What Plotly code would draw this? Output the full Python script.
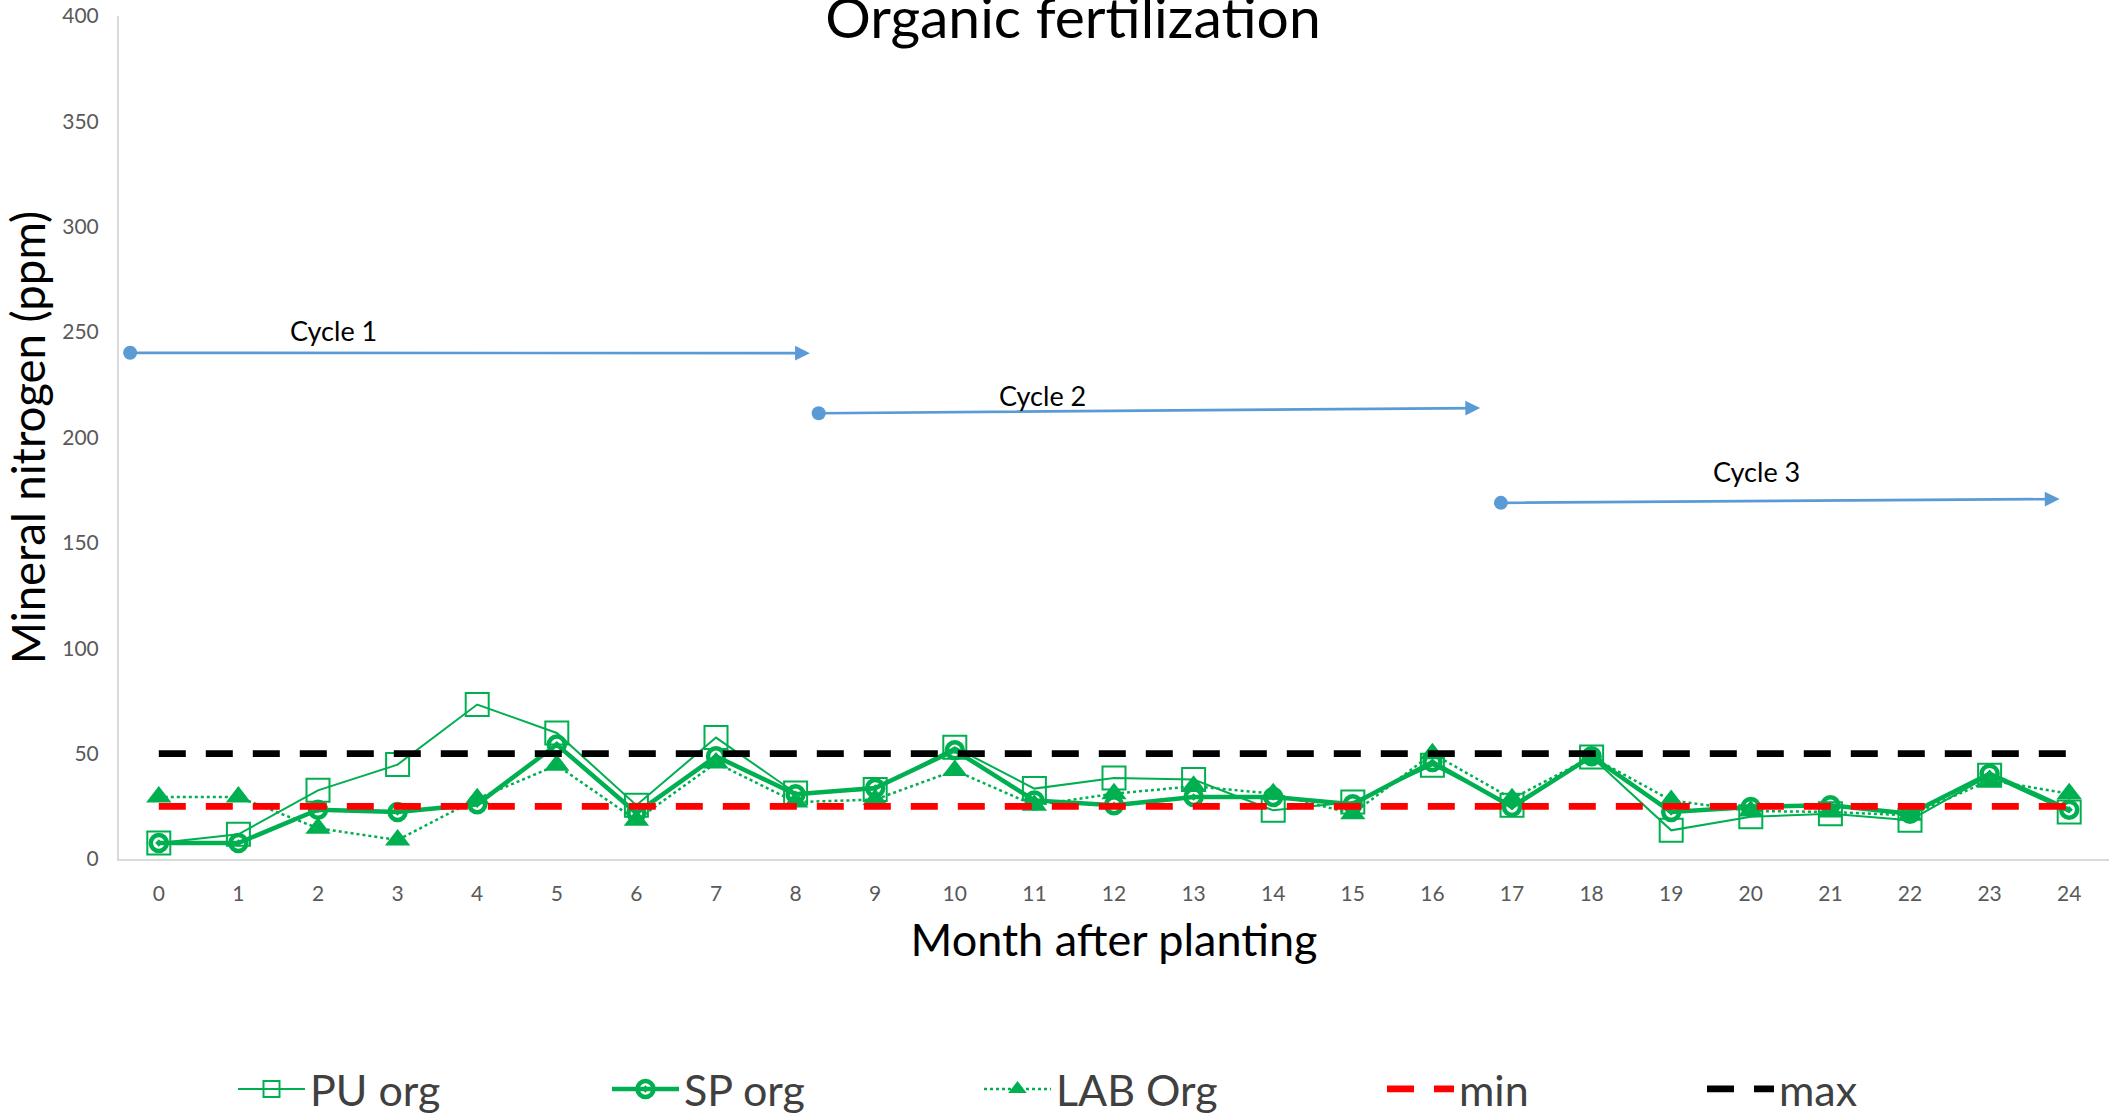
import plotly.graph_objects as go

months = list(range(25))
tick_labels = [str(m) for m in months]

pu_org = [7.6, 11.7, 32.6, 44.8, 73.3, 59.8, 25.5, 57.6, 31.3, 33.0, 53.0, 33.4, 38.4,
          37.7, 23.1, 27.0, 44.5, 25.5, 48.4, 13.6, 20.0, 21.5, 18.4, 39.7, 22.3]
sp_org = [7.6, 7.6, 23.4, 22.3, 26.0, 54.3, 21.8, 48.7, 30.7, 33.7, 51.6, 27.8, 25.5,
          29.4, 29.4, 26.0, 46.0, 24.7, 48.7, 22.3, 24.7, 25.5, 21.5, 40.5, 23.4]
lab_org = [29.4, 29.4, 14.6, 9.0, 28.6, 44.5, 18.4, 45.6, 27.0, 28.2, 42.0, 25.5, 31.0,
           34.5, 31.0, 21.5, 50.0, 28.6, 48.4, 27.8, 22.8, 22.3, 20.7, 37.3, 31.0]
min_vals = [25] * 25
max_vals = [50] * 25
y_ticks = [0, 50, 100, 150, 200, 250, 300, 350, 400]

cycle_names = ["Cycle 1", "Cycle 2", "Cycle 3"]
cycle_x0 = [-0.36, 8.29, 16.86]
cycle_y0 = [240.2, 211.5, 169.0]
cycle_x1 = [8.18, 16.6, 23.88]
cycle_y1 = [240.0, 214.0, 170.8]
cycle_lx = [2.2, 11.1, 20.07]
cycle_ly = [251.0, 219.8, 184.0]

GREEN = "#00B050"
BLUE = "#5B9BD5"
FONT = "Lato"

fig = go.Figure()

fig.add_trace(go.Scatter(
    x=months, y=pu_org, name="PU org", mode="lines+markers", legend="legend",
    line=dict(color=GREEN, width=2),
    marker=dict(symbol="square-open", size=23, color=GREEN, line=dict(width=2, color=GREEN)),
))
fig.add_trace(go.Scatter(
    x=months, y=sp_org, name="SP org", mode="lines+markers", legend="legend2",
    line=dict(color=GREEN, width=4.5),
    marker=dict(symbol="circle-open-dot", size=16, color=GREEN, line=dict(width=4.5, color=GREEN)),
))
fig.add_trace(go.Scatter(
    x=months, y=lab_org, name="LAB Org", mode="lines+markers", legend="legend3",
    line=dict(color=GREEN, width=2.5, dash="3px,3px"),
    marker=dict(symbol="triangle-up", size=22, color=GREEN),
))
fig.add_trace(go.Scatter(
    x=months, y=min_vals, name="min", mode="lines", legend="legend4",
    line=dict(color="#FF0000", width=6.7, dash="27px,20px"),
))
fig.add_trace(go.Scatter(
    x=months, y=max_vals, name="max", mode="lines", legend="legend5",
    line=dict(color="#000000", width=6.7, dash="27px,20px"),
))

# cycle start dots
fig.add_trace(go.Scatter(
    x=cycle_x0, y=cycle_y0, mode="markers", showlegend=False, hoverinfo="skip",
    marker=dict(symbol="circle", size=14, color=BLUE),
))

annotations = []
for name, x0, y0, x1, y1, lx, ly in zip(cycle_names, cycle_x0, cycle_y0, cycle_x1, cycle_y1, cycle_lx, cycle_ly):
    annotations.append(dict(
        x=x1, y=y1, ax=x0, ay=y0, xref="x", yref="y", axref="x", ayref="y",
        text="", showarrow=True, arrowhead=2, arrowsize=1.1, arrowwidth=2.7,
        arrowcolor=BLUE, standoff=0, startstandoff=0,
    ))
    annotations.append(dict(
        x=lx, y=ly, xref="x", yref="y", text=name, showarrow=False,
        font=dict(family=FONT, size=27, color="#000000"),
        xanchor="center", yanchor="middle",
    ))

legend_common = dict(
    orientation="h", xanchor="left", yanchor="middle",
    yref="container", y=1 - 1089 / 1117,
    font=dict(family=FONT, size=43, color="#404040"),
    bgcolor="rgba(0,0,0,0)", itemwidth=67, tracegroupgap=0,
)

fig.update_layout(
    width=2111, height=1117, autosize=False,
    paper_bgcolor="white", plot_bgcolor="white",
    margin=dict(l=119, r=2, t=13, b=258),
    title=dict(text="Organic fertilization", x=(1073 / 2111), xanchor="center",
               y=1 - 18 / 1117, yanchor="middle", yref="container",
               font=dict(family=FONT, size=57, color="#000000")),
    xaxis=dict(
        range=[-0.5, 24.5], tickmode="array", tickvals=months, ticktext=tick_labels,
        showgrid=False, zeroline=False, showline=True, linecolor="#D9D9D9", linewidth=2,
        ticks="", ticklabelstandoff=15, ticklabeloverflow="allow",
        tickfont=dict(family=FONT, size=21, color="#595959"),
        title=dict(text="Month after planting", standoff=20,
                   font=dict(family=FONT, size=45, color="#000000")),
    ),
    yaxis=dict(
        range=[0, 400], tickmode="array", tickvals=y_ticks,
        showgrid=False, zeroline=False, showline=True, linecolor="#D9D9D9", linewidth=2,
        ticks="", ticklabelstandoff=14, ticklabeloverflow="allow",
        tickfont=dict(family=FONT, size=21, color="#595959"),
        title=dict(text="Mineral nitrogen (ppm)", standoff=21,
                   font=dict(family=FONT, size=45.5, color="#000000")),
    ),
    annotations=annotations,
    legend=dict(legend_common, x=(233 - 119) / 1990),
    legend2=dict(legend_common, x=(607 - 119) / 1990),
    legend3=dict(legend_common, x=(979 - 119) / 1990),
    legend4=dict(legend_common, x=(1382 - 119) / 1990),
    legend5=dict(legend_common, x=(1702 - 119) / 1990),
)

fig.write_html("out.html")
